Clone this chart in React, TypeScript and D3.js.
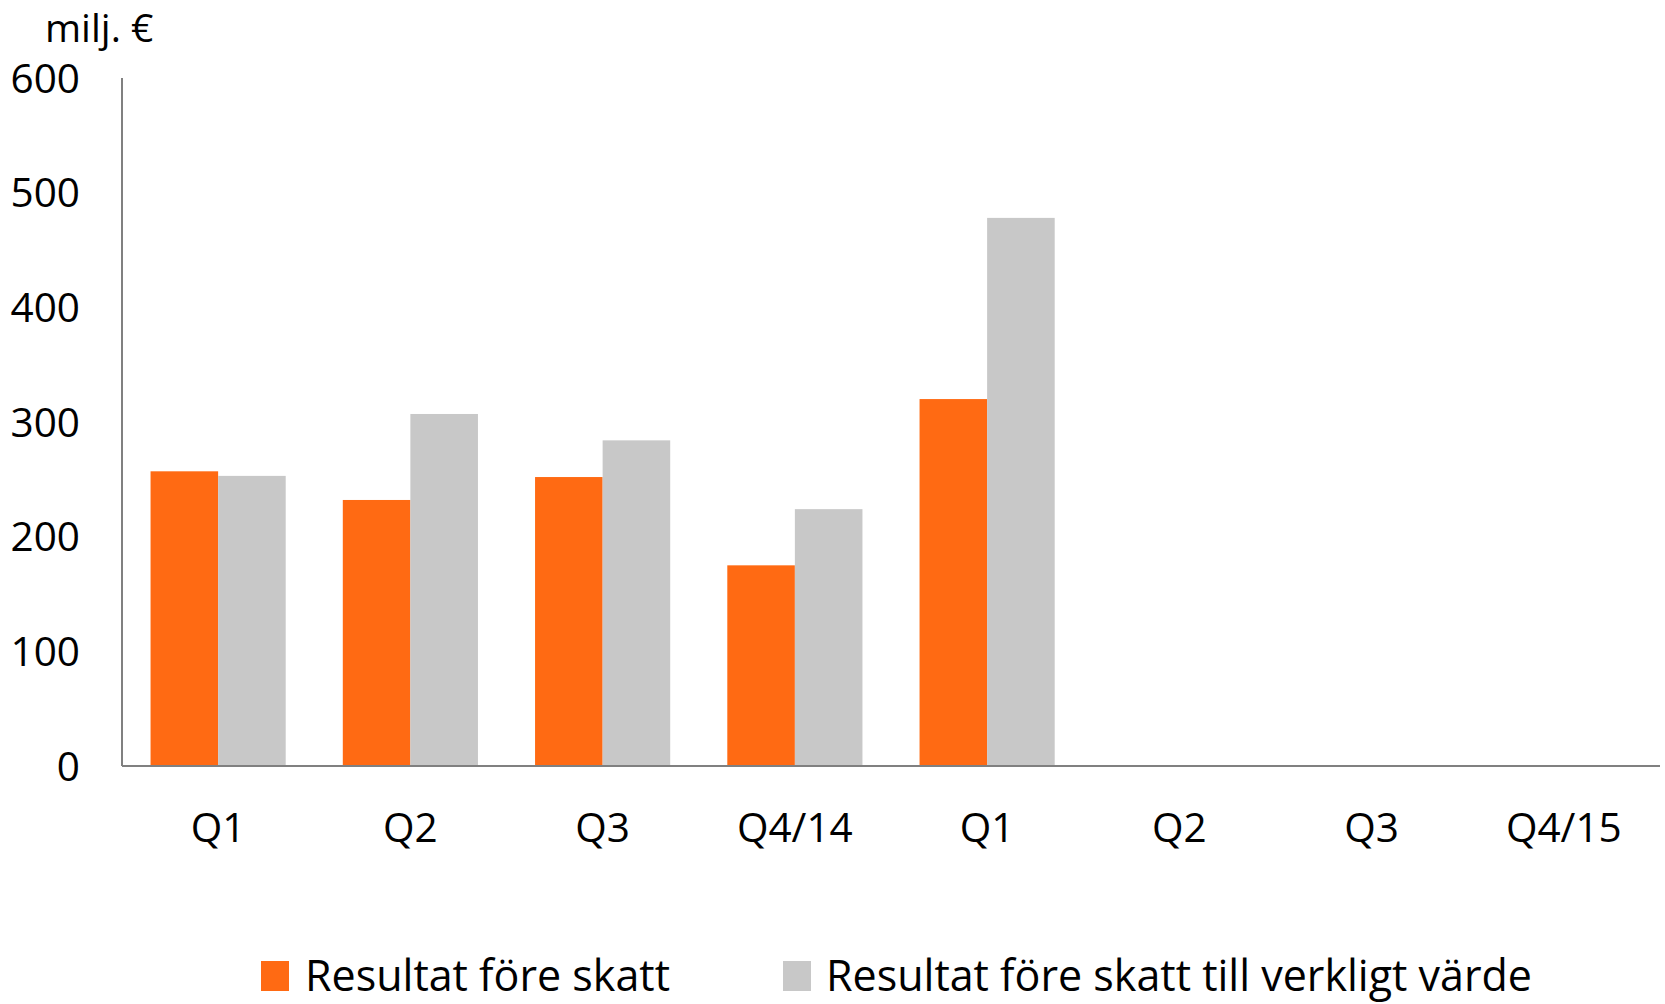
import React from "react";
import * as d3 from "d3";

const categories = ["Q1", "Q2", "Q3", "Q4/14", "Q1", "Q2", "Q3", "Q4/15"];
const seriesNames = ["Resultat före skatt", "Resultat före skatt till verkligt värde"];
const resultat: (number | null)[] = [257, 232, 252, 175, 320, null, null, null];
const verkligt: (number | null)[] = [253, 307, 284, 224, 478, null, null, null];
const yTicks = [0, 100, 200, 300, 400, 500, 600];
const unitLabel = "milj. €";
const colors = ["#FF6A13", "#C8C8C8"];

const W = 1665;
const H = 1004;
const FONT = "'Open Sans', 'Noto Sans', sans-serif";

export default function App() {
  const left = 122;
  const right = 1660;
  const top = 78;
  const bottom = 766;
  const idx = categories.map((_, i) => String(i));
  const x = d3.scaleBand<string>().domain(idx).range([left, right]).paddingInner(0.297).paddingOuter(0.1485);
  const inner = d3.scaleBand<string>().domain(["0", "1"]).range([0, x.bandwidth()]);
  const y = d3.scaleLinear().domain([0, 600]).range([bottom, top]);
  const series = [resultat, verkligt];
  const step = (right - left) / categories.length;

  return (
    <svg width={W} height={H} style={{ position: "absolute", left: 0, top: 0, background: "#fff" }} fontFamily={FONT}>
      <text x={45} y={42} fontSize={39} fill="#000">{unitLabel}</text>
      {yTicks.map((t) => (
        <text key={t} x={80} y={y(t)} dy="0.36em" textAnchor="end" fontSize={40.5} fill="#000">{t}</text>
      ))}
      {series.map((vals, s) =>
        vals.map((v, i) =>
          v == null ? null : (
            <rect
              key={`${s}-${i}`}
              x={(x(String(i)) as number) + (inner(String(s)) as number)}
              y={y(v)}
              width={inner.bandwidth()}
              height={y(0) - y(v)}
              fill={colors[s]}
            />
          )
        )
      )}
      <line x1={left} x2={left} y1={top} y2={bottom} stroke="#808080" strokeWidth={2} />
      <line x1={left} x2={right} y1={bottom} y2={bottom} stroke="#808080" strokeWidth={2} />
      {categories.map((c, i) => (
        <text key={i} x={left + step * (i + 0.5)} y={842} textAnchor="middle" fontSize={40.5} fill="#000">{c}</text>
      ))}
      <rect x={261} y={961} width={28} height={30} fill={colors[0]} />
      <text x={305} y={991} fontSize={43} fill="#000">{seriesNames[0]}</text>
      <rect x={783} y={961} width={28} height={30} fill={colors[1]} />
      <text x={826} y={991} fontSize={43} fill="#000">{seriesNames[1]}</text>
    </svg>
  );
}
